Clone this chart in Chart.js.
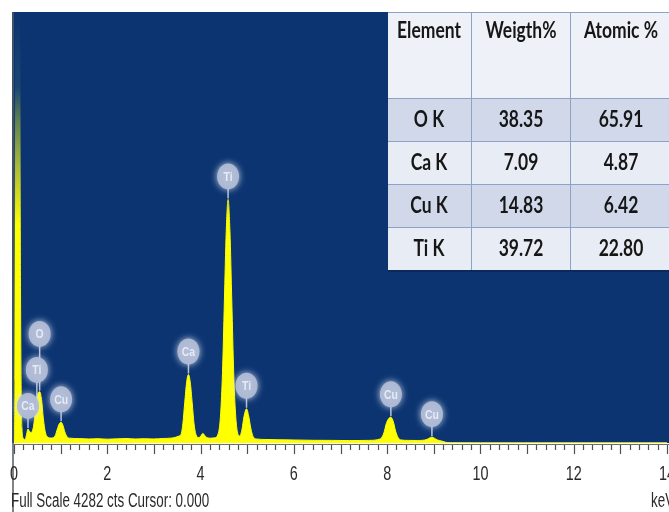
<!DOCTYPE html>
<html>
<head>
<meta charset="utf-8">
<script src="https://cdn.jsdelivr.net/npm/chart.js@4.4.1/dist/chart.umd.min.js"></script>
<style>
  html, body { margin: 0; padding: 0; background: #ffffff; }
  canvas { display: block; }
</style>
</head>
<body>
<canvas id="eds" width="669" height="512"></canvas>
<script>
// EDS spectrum: energy (keV) and counts
const energyKeV = [
  0.00, 0.02, 0.04, 0.11, 0.14, 0.17, 0.20, 0.24, 0.27, 0.30, 0.33, 0.37,
  0.42, 0.46, 0.50, 0.55, 0.59, 0.63, 0.67, 0.72, 0.80, 0.88, 0.93, 0.97,
  1.01, 1.05, 1.09, 1.14, 1.20, 1.40, 1.60, 1.80, 2.00, 2.20, 2.40, 2.60,
  2.80, 3.00, 3.20, 3.35, 3.45, 3.54, 3.58, 3.62, 3.66, 3.70, 3.74, 3.78,
  3.82, 3.86, 3.90, 3.95, 3.99, 4.05, 4.11, 4.20, 4.30, 4.39, 4.43, 4.47,
  4.51, 4.55, 4.59, 4.63, 4.67, 4.71, 4.75, 4.79, 4.84, 4.89, 4.93, 4.985,
  5.03, 5.08, 5.13, 5.20, 5.40, 5.70, 6.00, 6.40, 6.80, 7.20, 7.60, 7.85,
  7.93, 7.98, 8.03, 8.08, 8.13, 8.18, 8.24, 8.30, 8.45, 8.65, 8.85, 8.91,
  8.96, 9.01, 9.08, 9.18, 9.25, 9.35, 10.0, 11.0, 12.0, 13.0, 14.0
];
const counts = [
  0, 600, 6000, 6000, 1500, 150, 45, 35, 85, 140, 115, 105,
  170, 330, 470, 510, 430, 240, 110, 60, 50, 70, 140, 190,
  205, 175, 110, 60, 48, 44, 40, 43, 38, 41, 45, 40,
  43, 40, 45, 48, 55, 70, 85, 190, 400, 600, 680, 600,
  400, 190, 85, 55, 60, 95, 62, 48, 52, 115, 290, 700,
  1400, 2100, 2420, 2100, 1400, 700, 290, 110, 70, 140, 260, 340,
  270, 140, 60, 40, 35, 32, 30, 27, 26, 24, 26, 40,
  100, 190, 240, 255, 215, 120, 50, 30, 26, 25, 35, 50,
  58, 48, 30, 18, 8, 3, 2, 2, 2, 2, 2
];

// Peak identifications
const peakElements = ['Ca', 'Ti', 'O', 'Cu', 'Ca', 'Ti', 'Ti', 'Cu', 'Cu'];
const peakKeV      = [0.30, 0.49, 0.55, 1.01, 3.74, 4.59, 4.985, 8.08, 8.96];

// Quantification table
const tableHeaders = ['Element', 'Weigth%', 'Atomic %'];
const tableElements = ['O K', 'Ca K', 'Cu K', 'Ti K'];
const weightPct = [38.35, 7.09, 14.83, 39.72];
const atomicPct = [65.91, 4.87, 6.42, 22.80];

// Axis labels
const xTickLabels = [0, 2, 4, 6, 8, 10, 12, 14];
const fullScaleCounts = 4282;
const cursorText = 'Full Scale ' + fullScaleCounts + ' cts Cursor: 0.000';
const unitText = 'keV';

const BG_BLUE = '#0b3471';

function countsAt(e) {
  for (let i = 1; i < energyKeV.length; i++) {
    if (e <= energyKeV[i]) {
      const t = (e - energyKeV[i - 1]) / (energyKeV[i] - energyKeV[i - 1]);
      return counts[i - 1] + t * (counts[i] - counts[i - 1]);
    }
  }
  return counts[counts.length - 1];
}

function condensedText(ctx, text, x, y, sx, align) {
  ctx.save();
  ctx.translate(x, y);
  ctx.scale(sx, 1);
  ctx.textAlign = align || 'center';
  ctx.fillText(text, 0, 0);
  ctx.restore();
}

// yellow fill that fades to olive and into the background above the scale top
function spectrumGradient(chart) {
  const area = chart.chartArea;
  if (!area) return '#ffff00';
  const g = chart.ctx.createLinearGradient(0, area.bottom, 0, area.top);
  const h = area.bottom - area.top;
  const at = py => Math.min(1, Math.max(0, (area.bottom - py) / h));
  g.addColorStop(0, '#ffff00');
  g.addColorStop(at(225), '#ffff00');
  g.addColorStop(at(165), '#a8b83a');
  g.addColorStop(at(120), '#5e8050');
  g.addColorStop(at(88), '#1c4670');
  g.addColorStop(1, BG_BLUE);
  return g;
}

const spectrumFrame = {
  id: 'spectrumFrame',
  beforeDraw(chart) {
    const { ctx, chartArea: a } = chart;
    ctx.save();
    ctx.fillStyle = '#ffffff';
    ctx.fillRect(0, 0, chart.width, chart.height);
    ctx.fillStyle = BG_BLUE;
    ctx.fillRect(a.left - 2, a.top, chart.width - a.left + 2, a.bottom - a.top);
    ctx.restore();
  },
  afterDatasetsDraw(chart) {
    const { ctx, chartArea: a, scales: { x, y } } = chart;
    ctx.save();
    // axis lines
    ctx.strokeStyle = '#555a60';
    ctx.lineWidth = 1.5;
    ctx.beginPath();
    ctx.moveTo(a.left - 1, a.top);
    ctx.lineTo(a.left - 1, chart.height);
    ctx.stroke();
    ctx.strokeStyle = '#6a6f76';
    ctx.lineWidth = 1;
    ctx.beginPath();
    ctx.moveTo(a.left - 1, a.bottom + 1.5);
    ctx.lineTo(chart.width, a.bottom + 1.5);
    ctx.stroke();
    // tick marks every 0.2 keV, longer each keV
    ctx.strokeStyle = '#4a4f55';
    ctx.lineWidth = 1.2;
    for (let k = 0; k <= 70; k++) {
      const px = Math.round(x.getPixelForValue(k * 0.2)) + 0.5;
      const len = (k % 5 === 0) ? 9 : 5;
      ctx.beginPath();
      ctx.moveTo(px, a.bottom + 2);
      ctx.lineTo(px, a.bottom + 2 + len);
      ctx.stroke();
    }
    // tick labels
    ctx.fillStyle = '#2a2a2a';
    ctx.font = '20px "Liberation Sans", Arial, sans-serif';
    ctx.textBaseline = 'middle';
    xTickLabels.forEach(v => {
      condensedText(ctx, String(v), x.getPixelForValue(v), 474, 0.72, 'center');
    });
    ctx.font = '20px "Liberation Sans", Arial, sans-serif';
    condensedText(ctx, cursorText, a.left - 3, 501, 0.67, 'left');
    condensedText(ctx, unitText, 651, 501, 0.67, 'left');

    // peak markers, stacked upward where they would overlap
    const placed = [];
    peakElements.forEach((el, i) => {
      const px = x.getPixelForValue(peakKeV[i]);
      const py = y.getPixelForValue(countsAt(peakKeV[i]));
      let cy = py - 23;
      let moved = true;
      while (moved) {
        moved = false;
        for (const p of placed) {
          if (Math.abs(p.x - px) < 20 && Math.abs(p.y - cy) < 36 && p.y >= cy - 35) {
            cy = p.y - 36; moved = true;
          }
        }
      }
      placed.push({ x: px, y: cy, py, el });
    });
    placed.forEach(p => {
      ctx.strokeStyle = 'rgba(200,208,224,0.9)';
      ctx.lineWidth = 1.5;
      ctx.beginPath();
      ctx.moveTo(p.x, p.y + 11);
      ctx.lineTo(p.x, p.py - 1);
      ctx.stroke();
    });
    placed.forEach(p => {
      ctx.save();
      ctx.shadowColor = 'rgba(220,226,240,0.95)';
      ctx.shadowBlur = 7;
      ctx.fillStyle = 'rgba(176,188,214,0.95)';
      ctx.beginPath();
      ctx.ellipse(p.x, p.y, 11, 13, 0, 0, Math.PI * 2);
      ctx.fill();
      ctx.restore();
      ctx.fillStyle = '#e6eaf4';
      ctx.font = 'bold 13px "Liberation Sans", Arial, sans-serif';
      ctx.textBaseline = 'middle';
      condensedText(ctx, p.el, p.x, p.y + 1, 0.8, 'center');
    });
    ctx.restore();
  },
  afterDraw(chart) {
    const { ctx } = chart;
    const left = 388, right = chart.width + 4;
    const cols = [left, 471, 570, right];
    const rows = [12, 98, 141, 184, 227, 270];
    ctx.save();
    ctx.fillStyle = '#eef1f7';
    ctx.fillRect(left, rows[0], right - left, rows[1] - rows[0]);
    const shades = ['#d0d8ea', '#e8ecf4', '#d0d8ea', '#e8ecf4'];
    for (let r = 0; r < 4; r++) {
      ctx.fillStyle = shades[r];
      ctx.fillRect(left, rows[r + 1], right - left, rows[r + 2] - rows[r + 1]);
    }
    ctx.strokeStyle = '#8ea2c8';
    ctx.lineWidth = 1;
    rows.forEach(ry => {
      ctx.beginPath(); ctx.moveTo(left, ry + 0.5); ctx.lineTo(right, ry + 0.5); ctx.stroke();
    });
    cols.slice(1, 3).forEach(cx => {
      ctx.beginPath(); ctx.moveTo(cx + 0.5, rows[0]); ctx.lineTo(cx + 0.5, rows[5]); ctx.stroke();
    });
    ctx.strokeStyle = '#0a2a5c';
    ctx.lineWidth = 2;
    ctx.beginPath(); ctx.moveTo(left, rows[5] + 1); ctx.lineTo(right, rows[5] + 1); ctx.stroke();

    ctx.fillStyle = '#161616';
    ctx.font = 'bold 23px Lato, "Open Sans", sans-serif';
    ctx.textBaseline = 'middle';
    const centers = [429, 521, 621];
    tableHeaders.forEach((h, c) => condensedText(ctx, h, centers[c], 31, 0.76, 'center'));
    for (let r = 0; r < 4; r++) {
      const cy = (rows[r + 1] + rows[r + 2]) / 2;
      condensedText(ctx, tableElements[r], centers[0], cy, 0.76, 'center');
      condensedText(ctx, weightPct[r].toFixed(2), centers[1], cy, 0.76, 'center');
      condensedText(ctx, atomicPct[r].toFixed(2), centers[2], cy, 0.76, 'center');
    }
    ctx.restore();
  }
};

const ctx = document.getElementById('eds').getContext('2d');
new Chart(ctx, {
  type: 'line',
  data: {
    datasets: [{
      data: energyKeV.map((e, i) => ({ x: e, y: counts[i] })),
      borderColor: context => spectrumGradient(context.chart),
      borderWidth: 1,
      pointRadius: 0,
      cubicInterpolationMode: 'monotone',
      fill: 'origin',
      backgroundColor: context => spectrumGradient(context.chart)
    }]
  },
  options: {
    responsive: false,
    animation: false,
    events: [],
    layout: { padding: { left: 14, right: 2, top: 12, bottom: 69 } },
    plugins: { legend: { display: false }, tooltip: { enabled: false } },
    scales: {
      x: { type: 'linear', min: 0, max: 14, display: false },
      y: { min: 0, max: fullScaleCounts, display: false }
    }
  },
  plugins: [spectrumFrame]
});
</script>
</body>
</html>
